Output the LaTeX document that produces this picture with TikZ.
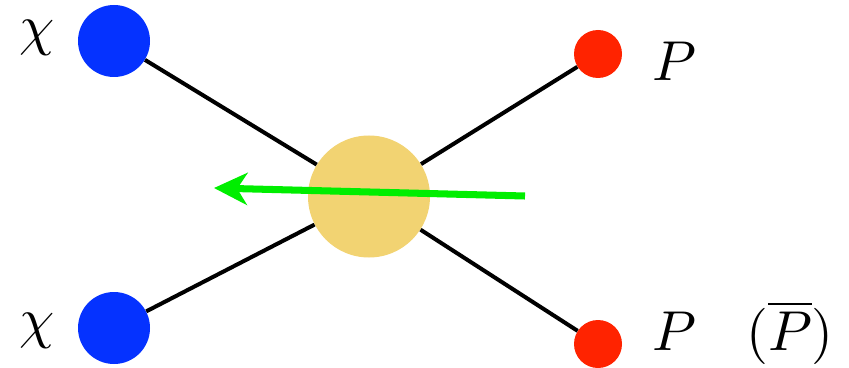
\documentclass[tikz,border=0pt]{standalone}
\usetikzlibrary{arrows.meta}
\definecolor{chiblue}{RGB}{5,50,255}
\definecolor{pred}{RGB}{255,35,0}
\definecolor{blobyellow}{RGB}{242,211,114}
\definecolor{flowgreen}{RGB}{0,238,0}
\tikzset{biglabel/.style={scale=4, anchor=base}}
\begin{document}
\begin{tikzpicture}
            \useasboundingbox (0,0) rectangle (21.225,9.175);

            \node (chi_top) at (0.925,8.075) [biglabel] {$\chi$};
            \node (chi_bot) at (0.925,0.75) [biglabel] {$\chi$};
            \node (p_top) at (16.85,7.15) [biglabel] {$P$};
            \node (p_bot) at (16.85,0.425) [biglabel] {$P$};
            \node (pbar_bot) at (19.75,0.425) [biglabel] {$(\overline{P})$};

            \node (a) at (2.85,8.15) [circle, fill=chiblue, inner sep=0pt, minimum size=1.8cm] {};
            \node (b) at (2.85,0.975) [circle, fill=chiblue, inner sep=0pt, minimum size=1.8cm] {};
            \node (c) at (14.95,7.825) [circle, fill=pred, inner sep=0pt, minimum size=1.2cm] {};
            \node (d) at (14.95,0.575) [circle, fill=pred, inner sep=0pt, minimum size=1.2cm] {};
            \node (blob) at (9.225,4.2625) [circle, fill=blobyellow, inner sep=0pt, minimum size=3.05cm] {};

            \draw[line width=2.85pt] (a) -- (blob);
            \draw[line width=2.85pt] (b) -- (blob);
            \draw[line width=2.85pt] (blob) -- (c);
            \draw[line width=2.85pt] (blob) -- (d);

            \coordinate (flow_start) at (13.125,4.275);
            \coordinate (flow_end) at (5.35,4.475);
            \draw[flowgreen, line width=5pt, -{Stealth[length=8.3mm, width=8mm, inset=2.5mm]}] (flow_start) -- (flow_end);
        \end{tikzpicture}
\end{document}
